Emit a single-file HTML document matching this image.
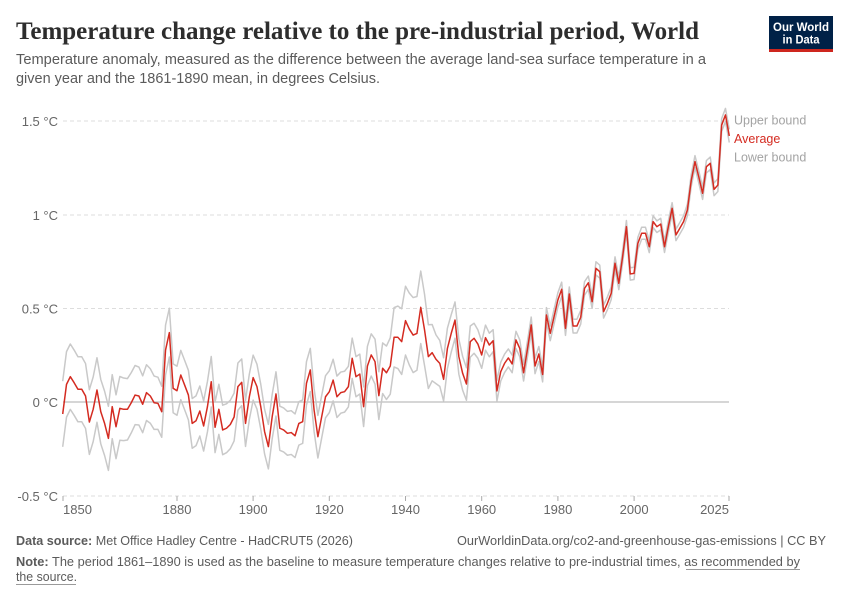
<!DOCTYPE html>
<html>
<head>
<meta charset="utf-8">
<style>
  html,body{margin:0;padding:0;background:#fff;}
  svg{display:block;}
  text{font-family:"Liberation Sans",sans-serif;}
  text.serif{font-family:"Liberation Serif",serif;}
</style>
</head>
<body>
<svg id="chart" width="850" height="600" viewBox="0 0 850 600" xmlns="http://www.w3.org/2000/svg">
  <rect x="0" y="0" width="850" height="600" fill="#ffffff"/>
  <!-- Title -->
  <text class="serif" x="16" y="39" style="font-family:'Liberation Serif',serif;" font-weight="bold" font-size="25" fill="#2d2d2d" textLength="683" lengthAdjust="spacingAndGlyphs">Temperature change relative to the pre-industrial period, World</text>
  <!-- Subtitle -->
  <text x="16" y="64" font-size="14.5" fill="#5b5b5b" textLength="690" lengthAdjust="spacingAndGlyphs">Temperature anomaly, measured as the difference between the average land-sea surface temperature in a</text>
  <text x="16" y="83" font-size="14.5" fill="#5b5b5b" textLength="364" lengthAdjust="spacingAndGlyphs">given year and the 1861-1890 mean, in degrees Celsius.</text>

  <!-- Logo -->
  <rect x="769" y="16" width="64" height="36" fill="#002147"/>
  <rect x="769" y="49" width="64" height="3" fill="#ce261e"/>
  <text x="801" y="31" font-size="11.5" font-weight="bold" fill="#ffffff" text-anchor="middle" textLength="56" lengthAdjust="spacingAndGlyphs">Our World</text>
  <text x="801" y="43.5" font-size="11.5" font-weight="bold" fill="#ffffff" text-anchor="middle" textLength="37" lengthAdjust="spacingAndGlyphs">in Data</text>

  <!-- Gridlines -->
  <g stroke="#dddddd" stroke-width="1" stroke-dasharray="4,3">
    <line x1="63" y1="121" x2="729" y2="121"/>
    <line x1="63" y1="215" x2="729" y2="215"/>
    <line x1="63" y1="308.5" x2="729" y2="308.5"/>
    <line x1="63" y1="496" x2="729" y2="496"/>
  </g>
  <line x1="63" y1="402" x2="729" y2="402" stroke="#bdbdbd" stroke-width="1.3"/>

  <!-- Y labels -->
  <g font-size="13" fill="#666666" text-anchor="end">
    <text x="58" y="126">1.5 °C</text>
    <text x="58" y="220">1 °C</text>
    <text x="58" y="313.5">0.5 °C</text>
    <text x="58" y="407">0 °C</text>
    <text x="58" y="501">-0.5 °C</text>
  </g>

  <!-- X ticks -->
  <g stroke="#aaaaaa" stroke-width="1">
    <line x1="63" y1="496" x2="63" y2="501"/>
    <line x1="177" y1="496" x2="177" y2="501"/>
    <line x1="253.1" y1="496" x2="253.1" y2="501"/>
    <line x1="329.3" y1="496" x2="329.3" y2="501"/>
    <line x1="405.5" y1="496" x2="405.5" y2="501"/>
    <line x1="481.7" y1="496" x2="481.7" y2="501"/>
    <line x1="557.9" y1="496" x2="557.9" y2="501"/>
    <line x1="634.1" y1="496" x2="634.1" y2="501"/>
    <line x1="729" y1="496" x2="729" y2="501"/>
  </g>
  <g font-size="13" fill="#666666">
    <text x="63" y="514">1850</text>
    <text x="177" y="514" text-anchor="middle">1880</text>
    <text x="253.1" y="514" text-anchor="middle">1900</text>
    <text x="329.3" y="514" text-anchor="middle">1920</text>
    <text x="405.5" y="514" text-anchor="middle">1940</text>
    <text x="481.7" y="514" text-anchor="middle">1960</text>
    <text x="557.9" y="514" text-anchor="middle">1980</text>
    <text x="634.1" y="514" text-anchor="middle">2000</text>
    <text x="729" y="514" text-anchor="end">2025</text>
  </g>

  <!-- Series -->
  <polyline id="upper" fill="none" stroke="#c9c9c9" stroke-width="1.5" stroke-linejoin="round"/>
  <polyline id="lower" fill="none" stroke="#c9c9c9" stroke-width="1.5" stroke-linejoin="round"/>
  <polyline id="avg" fill="none" stroke="#d42b21" stroke-width="1.5" stroke-linejoin="round"/>

  <!-- Legend -->
  <text x="734" y="124.5" font-size="12.5" fill="#a3a3a3">Upper bound</text>
  <text x="734" y="143" font-size="12.5" fill="#d42b21">Average</text>
  <text x="734" y="161.5" font-size="12.5" fill="#a3a3a3">Lower bound</text>

  <!-- Footer -->
  <text x="16" y="545" font-size="12.5" fill="#5b5b5b" textLength="337" lengthAdjust="spacingAndGlyphs"><tspan font-weight="bold">Data source:</tspan> Met Office Hadley Centre - HadCRUT5 (2026)</text>
  <text x="826" y="545" font-size="12.5" fill="#5b5b5b" text-anchor="end" textLength="369" lengthAdjust="spacingAndGlyphs">OurWorldinData.org/co2-and-greenhouse-gas-emissions | CC BY</text>
  <text x="16" y="566" font-size="12.5" fill="#5b5b5b" textLength="784" lengthAdjust="spacingAndGlyphs"><tspan font-weight="bold">Note:</tspan> The period 1861–1890 is used as the baseline to measure temperature changes relative to pre-industrial times, as recommended by</text>
  <line x1="686" y1="569.5" x2="800" y2="569.5" stroke="#9a9a9a" stroke-width="1"/>
  <text x="16" y="581" font-size="12.5" fill="#5b5b5b" textLength="61" lengthAdjust="spacingAndGlyphs">the source.</text>
  <line x1="16" y1="584.5" x2="76" y2="584.5" stroke="#9a9a9a" stroke-width="1"/>
</svg>
<script>
(function(){
var v=[-0.064,0.094,0.135,0.103,0.068,0.068,0.032,-0.107,-0.039,0.064,
-0.052,-0.114,-0.194,-0.025,-0.132,-0.034,-0.039,-0.039,-0.004,0.037,
0.032,-0.012,0.050,0.032,-0.004,-0.007,-0.052,0.277,0.370,0.073,
0.060,0.144,0.091,0.037,-0.114,-0.100,-0.048,-0.128,-0.025,0.108,
-0.135,-0.039,-0.149,-0.14,-0.12,-0.08,0.082,0.105,-0.114,0.028,
0.130,0.082,-0.025,-0.158,-0.238,-0.078,0.043,-0.140,-0.149,-0.167,
-0.163,-0.180,-0.114,-0.105,0.100,0.171,-0.043,-0.185,-0.078,0.028,
0.055,0.117,0.028,0.050,0.055,0.082,0.233,0.135,0.149,-0.025,
0.192,0.251,0.215,0.034,0.180,0.156,0.192,0.345,0.345,0.322,
0.434,0.389,0.357,0.366,0.505,0.384,0.242,0.263,0.228,0.206,
0.121,0.286,0.366,0.437,0.242,0.153,0.096,0.322,0.34,0.309,
0.251,0.343,0.304,0.327,0.059,0.162,0.206,0.235,0.203,0.331,
0.286,0.156,0.28,0.411,0.192,0.256,0.147,0.464,0.366,0.455,
0.544,0.601,0.393,0.576,0.405,0.405,0.452,0.606,0.636,0.535,
0.713,0.695,0.482,0.526,0.58,0.74,0.633,0.775,0.935,0.683,
0.686,0.846,0.9,0.9,0.828,0.962,0.935,0.949,0.828,0.935,
1.033,0.891,0.926,0.962,1.024,1.18,1.282,1.2,1.113,1.255,
1.273,1.134,1.157,1.477,1.531,1.419];
var knots=[[1850,0.175],[1865,0.17],[1878,0.13],[1890,0.135],[1900,0.12],[1915,0.115],[1930,0.105],[1936,0.15],[1942,0.2],[1945,0.19],[1948,0.13],[1952,0.1],[1958,0.08],[1965,0.05],[1975,0.04],[1990,0.035],[2010,0.03],[2025,0.035]];
function hw(yr){
  for(var i=0;i<knots.length-1;i++){
    var a=knots[i],b=knots[i+1];
    if(yr>=a[0]&&yr<=b[0]){return a[1]+(b[1]-a[1])*(yr-a[0])/(b[0]-a[0]);}
  }
  return 0.035;
}
function X(yr){return 62.7+(yr-1850)*3.809;}
function Y(t){return 402-t*187.5;}
var pa=[],pu=[],pl=[];
for(var i=0;i<v.length;i++){
  var yr=1850+i,h=hw(yr),x=X(yr).toFixed(2);
  pa.push(x+","+Y(v[i]).toFixed(2));
  pu.push(x+","+Y(v[i]+h).toFixed(2));
  pl.push(x+","+Y(v[i]-h).toFixed(2));
}
document.getElementById("avg").setAttribute("points",pa.join(" "));
document.getElementById("upper").setAttribute("points",pu.join(" "));
document.getElementById("lower").setAttribute("points",pl.join(" "));
})();
</script>
</body>
</html>
